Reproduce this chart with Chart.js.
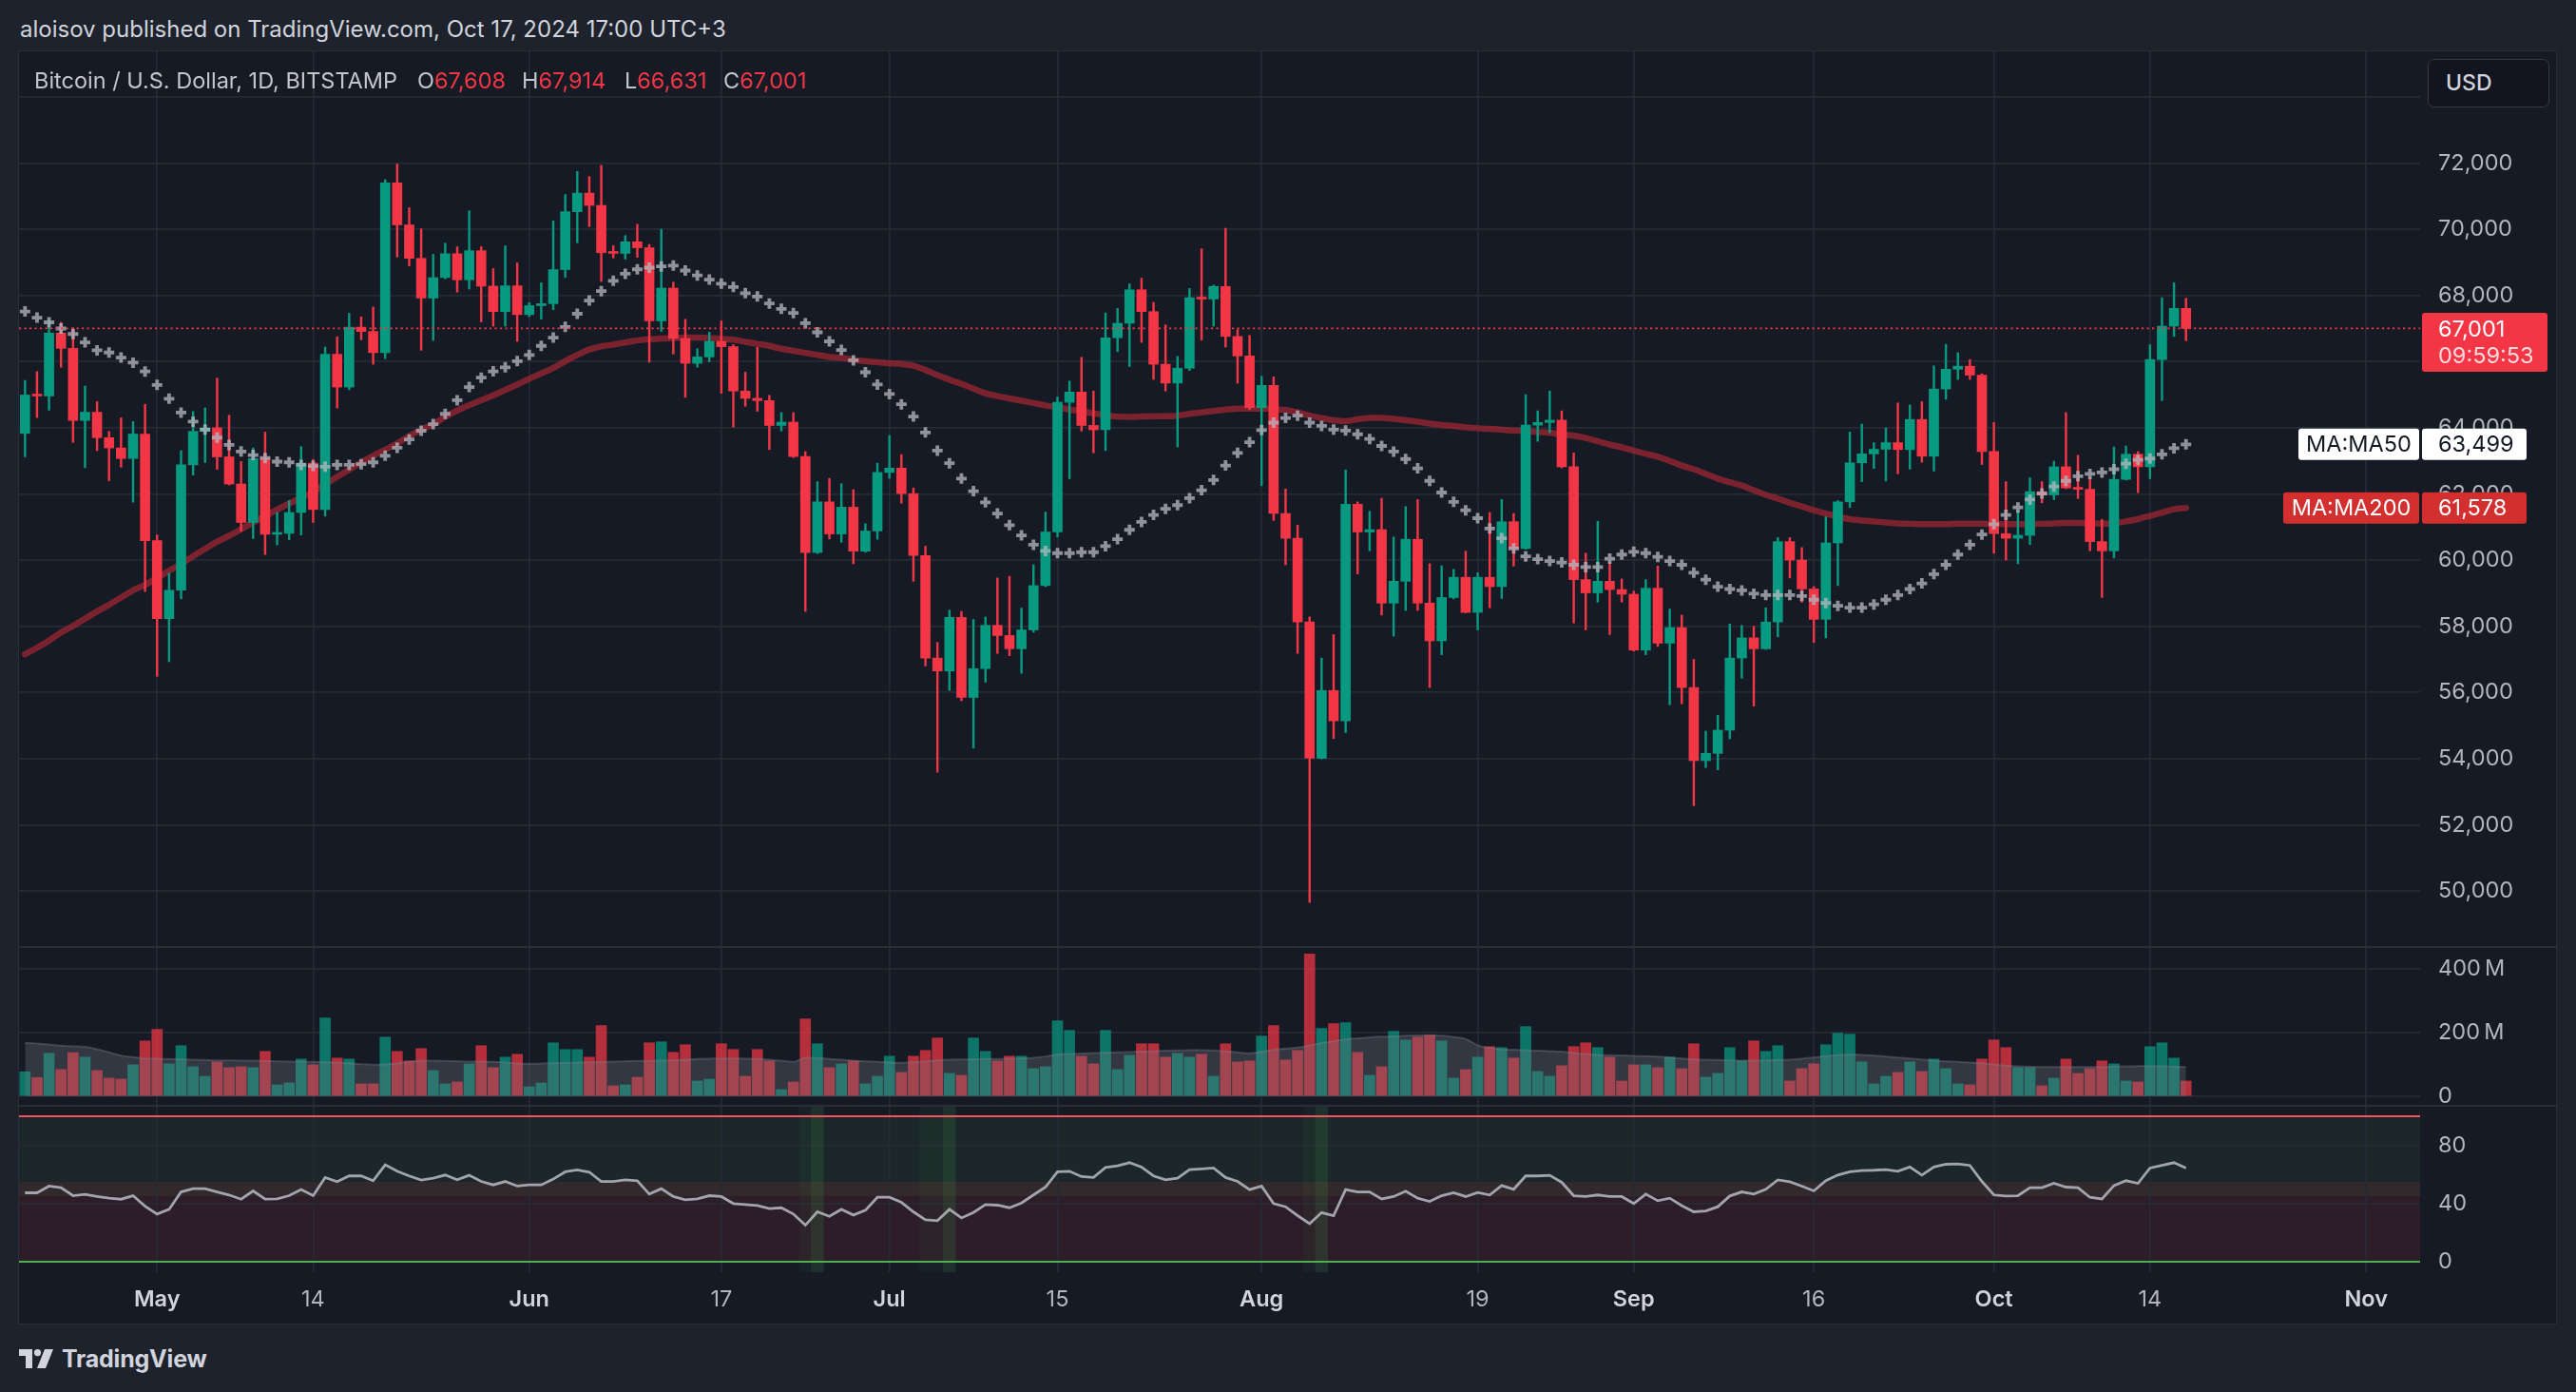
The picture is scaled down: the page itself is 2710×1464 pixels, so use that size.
<!DOCTYPE html>
<html>
<head>
<meta charset="utf-8">
<script src="https://cdn.jsdelivr.net/npm/chart.js@4.4.1/dist/chart.umd.min.js"></script>
<style>
  html, body { margin:0; padding:0; width:2710px; height:1464px; overflow:hidden; background:#1e222d; font-family: Inter, "Noto Sans", sans-serif; }
  #panel { position:absolute; left:19px; top:53px; width:2671px; height:1340px; background:#161a25; border:1px solid #2a2e39; box-sizing:border-box; }
  canvas { position:absolute; }
  .sep { position:absolute; left:20px; width:2670px; height:2px; background:#2a2e39; }
  .txt { position:absolute; white-space:nowrap; }
  #title { left:21px; top:16px; line-height:30px; font-size:24px; color:#d1d4dc; }
  .leg { top:70px; line-height:30px; font-size:23.5px; color:#c3c6ce; }
  .red { color:#f23645; }
  #usd { position:absolute; left:2554px; top:62px; width:128px; height:51px; box-sizing:border-box; border:1.5px solid #363a45; border-radius:7px; background:#12151f; color:#d1d4dc; font-size:23px; font-weight:500; line-height:48px; padding-left:18px; }
  #logo { position:absolute; left:20px; top:1414px; height:30px; display:flex; align-items:center; color:#d1d4dc; font-size:25px; font-weight:700; letter-spacing:-0.2px; }
  #logo svg { margin-right:9px; }
</style>
</head>
<body>
<div id="panel"></div>
<canvas id="cPrice" width="2670" height="942" style="left:20px;top:54px"></canvas>
<canvas id="cVol" width="2670" height="167" style="left:20px;top:996px"></canvas>
<canvas id="cRsi" width="2670" height="230" style="left:20px;top:1163px"></canvas>
<div class="sep" style="top:995px"></div>
<div class="sep" style="top:1162px"></div>
<div id="title" class="txt">aloisov published on TradingView.com, Oct 17, 2024 17:00 UTC+3</div>
<div class="txt leg" style="left:36px">Bitcoin / U.S. Dollar, 1D, BITSTAMP</div>
<div class="txt leg" style="left:439px">O<span class="red" id="lgO"></span></div>
<div class="txt leg" style="left:549px">H<span class="red" id="lgH"></span></div>
<div class="txt leg" style="left:657px">L<span class="red" id="lgL"></span></div>
<div class="txt leg" style="left:761px">C<span class="red" id="lgC"></span></div>
<div id="usd">USD</div>
<div id="logo"><svg width="36" height="20" viewBox="0 0 36 20"><path d="M0 0h14v20H7V7H0z" fill="#d1d4dc"/><circle cx="19.5" cy="3.6" r="3.6" fill="#d1d4dc"/><path d="M27 0h9l-8 20h-9z" fill="#d1d4dc"/></svg>TradingView</div>

<script>
// ---------------- DATA ----------------
const monthSpans = [['Apr',20,30],['May',1,31],['Jun',1,30],['Jul',1,31],['Aug',1,31],['Sep',1,30],['Oct',1,31],['Nov',1,5]];
const dates = monthSpans.flatMap(([m,a,b]) => Array.from({length:b-a+1}, (_, k) => m + ' ' + (a + k)));

const tickDates = ['May 1','May 14','Jun 1','Jun 17','Jul 1','Jul 15','Aug 1','Aug 19','Sep 1','Sep 16','Oct 1','Oct 14','Nov 1'];
const tickTexts = ['May','14','Jun','17','Jul','15','Aug','19','Sep','16','Oct','14','Nov'];

const priceTicks = [50000,52000,54000,56000,58000,60000,62000,64000,66000,68000,70000,72000,74000];
const priceTicksHiddenLabel = [74000];
const volumeTicks = [0,200,400];
const rsiTicks = [0,40,80];

const open = [63830,64990,64960,66860,66400,64220,64470,63700,63390,63070,
63810,60590,58230,59090,62880,63890,64000,63120,62300,61140,
63070,60780,60810,61440,62930,61530,66220,65230,67040,66910,
66270,71400,70130,69120,67920,68540,69260,68470,69350,68280,
67510,68290,67420,67690,67750,68780,70530,71090,70720,69300,
69270,69620,69440,67230,68220,66700,65950,66140,66610,66450,
65110,64890,64820,64070,64170,63130,60230,61760,60790,61600,
60270,60880,62650,62780,62010,60140,57040,56650,58270,55850,
56720,58030,57720,57320,57890,59230,60850,64770,65080,64070,
63940,66720,67160,68170,67510,65920,65350,65800,67930,67890,
68270,66760,66170,64610,65280,61410,60660,58130,54010,56060,
55140,61690,60850,60920,58700,59360,60630,58700,57560,58870,
59480,58420,59480,59200,61160,60350,64080,64160,64230,62820,
59410,59010,59360,59110,58970,57280,59150,57490,57960,56150,
53940,54160,54860,57040,57650,57320,58130,60560,60000,59130,
58210,60520,61760,62940,63210,63350,63550,63340,64250,63140,
65170,65770,65860,65590,63280,60800,60660,60750,62070,61970,
62820,62180,62140,60560,60280,62440,63200,62820,66060,67070,
67608];
const high = [65430,65700,67240,67190,67020,65260,64790,63890,64300,64190,
64710,60760,59600,63310,64490,64600,65500,64380,62980,63390,
63870,61440,61800,63430,63040,66440,66750,67460,67350,67650,
71500,71970,70650,70010,69240,69580,69470,70560,69470,68810,
69500,68980,67780,68380,70250,71050,71750,71590,71930,69500,
69810,70150,69540,70000,68400,67280,66390,66890,67230,66510,
65680,66430,64980,64460,64460,63280,62370,62470,62310,62130,
61100,62930,63770,63190,62180,60420,57510,58490,58450,58210,
58280,59460,59510,58550,59860,61450,64930,65410,66130,65110,
67470,67610,68350,68520,67790,67110,66160,68210,69410,68310,
70030,66970,66790,65560,65540,62150,61060,58280,57040,57750,
62720,61760,61480,61870,60700,61620,61830,59890,59830,59720,
60270,59620,61440,61830,61410,65000,64510,65110,64510,63240,
60210,61170,59930,59430,59060,59410,59820,58520,58340,57000,
54830,55310,58070,58030,58000,58560,60680,60680,60380,59200,
61310,61800,63870,64110,63550,63990,64750,64690,64790,65870,
66520,66270,66060,65630,64160,62370,61480,62490,62370,62990,
64460,63170,62490,61230,63420,63450,63280,66510,67930,68380,
67914];
const low = [63120,64310,64530,65830,63560,62790,63310,62400,62810,61750,
59050,56490,56930,58830,62570,62950,62740,62270,60870,60650,
60170,60460,60610,60760,61140,61330,64600,65150,66660,65920,
66090,69160,68890,66340,66640,68500,68100,68190,67200,67070,
67070,66610,67360,67280,67570,68540,69590,70080,68420,69130,
69100,69150,65980,66910,66230,64920,65830,65990,65040,64020,
64650,64500,63340,63900,63100,58450,60200,60640,60540,59890,
60240,60630,62470,61720,59360,56800,53590,56060,55750,54320,
56310,57180,57110,56580,57820,59200,60700,62460,63900,63240,
63310,66300,65850,66580,65460,65110,63420,65730,66650,67070,
66440,65350,64550,62250,61200,59860,57180,49650,53990,54610,
54790,59580,60280,58340,57700,58480,58480,56150,57140,58830,
58400,57890,58560,58840,59820,60330,63590,63850,62790,58100,
57890,58730,57750,58730,57250,57140,57390,55630,55660,52580,
53730,53660,54600,56430,55590,57300,57680,59460,58730,57510,
57650,59230,61590,62370,62770,62390,62610,62750,62960,62690,
64860,65460,65460,62890,60210,60000,59890,60470,61730,61830,
62160,61860,60280,58870,60070,62420,62040,62460,64820,66760,
66631];
const close = [64990,64960,66860,66400,64220,64470,63700,63390,63070,63810,
60590,58230,59090,62880,63890,64000,63120,62300,61140,63070,
60780,60810,61440,62930,61530,66220,65230,67040,66910,66270,
71400,70130,69120,67920,68540,69260,68470,69350,68280,67510,
68290,67420,67690,67750,68780,70530,71090,70720,69290,69270,
69620,69440,67230,68220,66700,65950,66140,66610,66450,65110,
64890,64820,64070,64170,63130,60230,61760,60790,61600,60270,
60880,62650,62780,62010,60140,57040,56650,58270,55850,56720,
58030,57720,57320,57890,59230,60850,64770,65080,64070,63940,
66720,67160,68170,67510,65920,65350,65800,67930,67890,68270,
66760,66170,64610,65280,61410,60660,58130,54010,56060,55140,
61690,60850,60920,58700,59360,60630,58700,57560,58870,59480,
58420,59480,59200,61160,60350,64080,64160,64230,62820,59410,
59010,59360,59110,58970,57280,59150,57490,57960,56150,53940,
54160,54860,57040,57650,57320,58130,60560,60000,59130,58210,
60520,61760,62940,63210,63350,63550,63340,64250,63140,65170,
65770,65860,65590,63280,60800,60660,60750,62070,61970,62820,
62180,62140,60560,60280,62440,63200,62820,66060,67070,67610,
67001];

const ma50 = [67516,67329,67186,66999,66834,66581,66340,66274,66120,65966,
65702,65296,64878,64460,64186,63944,63702,63482,63284,63175,
63087,62977,62955,62878,62845,62823,62878,62878,62900,62955,
63153,63394,63647,63911,64109,64420,64832,65230,65516,65703,
65827,66014,66201,66475,66724,67047,67445,67844,68130,68441,
68653,68789,68839,68877,68901,68752,68603,68478,68354,68254,
68068,67968,67757,67595,67470,67159,66885,66612,66350,66039,
65678,65305,65019,64710,64338,63859,63309,62929,62464,62084,
61746,61408,61056,60746,60464,60278,60211,60211,60239,60239,
60422,60633,60915,61155,61366,61549,61662,61873,62112,62422,
62859,63239,63563,63929,64155,64295,64366,64155,64056,63943,
63915,63802,63661,63450,63281,63056,62774,62394,62042,61760,
61506,61267,60957,60661,60352,60112,60028,59972,59929,59859,
59788,59788,60042,60168,60253,60211,60098,59972,59859,59619,
59408,59197,59126,59084,58985,58943,58943,58943,58915,58802,
58704,58619,58563,58563,58662,58802,58943,59126,59295,59577,
59859,60168,60465,60774,61084,61366,61591,61830,62013,62225,
62394,62535,62605,62647,62746,62915,63028,63070,63197,63380,
63499];
const ma200 = [57153,57350,57570,57811,58009,58229,58449,58647,58867,59087,
59252,59460,59680,59878,60119,60339,60559,60735,60933,61141,
61328,61526,61713,61878,62076,62295,62515,62735,62955,63153,
63339,63526,63746,63944,64109,64329,64521,64683,64832,64981,
65143,65305,65479,65641,65803,66014,66201,66363,66462,66512,
66574,66636,66674,66699,66711,66724,66724,66711,66686,66661,
66599,66537,66475,66388,66325,66263,66201,66139,66114,66052,
66014,65977,65952,65927,65873,65746,65591,65450,65324,65183,
65042,64957,64887,64816,64746,64676,64619,64549,64493,64436,
64380,64338,64324,64338,64352,64352,64366,64422,64464,64507,
64549,64577,64577,64577,64563,64535,64464,64366,64295,64225,
64197,64253,64295,64295,64267,64225,64183,64126,64084,64056,
64014,63986,63971,63943,63915,63901,63873,63845,63802,63760,
63690,63591,63492,63408,63309,63211,63126,63000,62859,62746,
62605,62464,62352,62253,62112,61971,61858,61732,61620,61507,
61408,61310,61239,61197,61169,61140,61112,61098,61084,61084,
61084,61098,61098,61098,61084,61084,61084,61084,61098,61112,
61126,61126,61112,61098,61112,61169,61239,61338,61436,61535,
61578];

const volume = [77,59,135,84,137,123,81,57,54,99,
174,210,102,159,93,63,108,90,93,90,
141,36,42,117,99,246,120,117,39,39,
186,141,111,150,81,39,45,102,159,90,
123,132,30,42,168,147,147,123,222,33,
36,60,168,171,138,162,48,54,165,147,
63,147,111,21,45,243,165,90,102,111,
39,63,126,75,126,144,183,72,66,183,
141,111,126,126,87,93,237,207,126,102,
207,84,129,165,165,123,135,123,132,63,
165,108,111,189,222,114,144,447,213,228,
231,138,66,93,204,177,186,192,174,57,
84,123,156,153,120,219,78,63,96,156,
168,153,123,48,99,99,90,123,87,165,
60,72,153,111,174,141,159,48,87,102,
162,198,195,108,39,63,75,108,78,117,
87,39,36,117,177,153,90,90,33,57,
117,72,87,111,102,48,45,156,168,120,
48];
const volumeMA = [168,166,163,159,157,155,148,138,128,123,
119,118,117,116,115,114,113,113,112,112,
111,110,109,109,108,107,106,104,101,99,
100,104,108,112,112,111,110,109,109,108,
106,103,102,103,104,105,106,107,108,109,
110,111,111,112,113,115,117,118,119,119,
118,117,115,112,108,121,120,117,115,112,
110,108,106,105,107,110,113,115,116,116,
117,117,118,119,121,125,131,133,134,136,
137,138,139,140,142,143,144,145,145,144,
141,138,135,140,146,150,153,160,167,173,
179,182,185,187,188,190,191,192,190,186,
180,160,152,147,146,145,143,142,140,136,
133,130,129,128,127,126,125,122,119,116,
115,114,113,112,112,113,114,115,118,122,
126,129,131,130,128,125,122,119,116,112,
110,108,106,104,100,96,94,93,92,92,
92,92,92,92,93,94,95,95,94,93,
92];

const rsi = [47.4,47.4,52,50.9,45.4,46.3,44.8,43.7,43,45.4,
38.2,32.8,36,48,50.2,50.2,48,45.9,43,48.7,
43,43.2,45.4,49.6,45.4,57.9,55,59,59,55.7,
66.6,62.2,59,56.1,57.4,59.6,56.3,59.4,55.2,52.8,
55.2,52,52.8,52.8,56.8,61.8,63.1,61.6,55.2,55.2,
56.3,55.7,46.5,50.2,44.8,42.6,43.2,45.4,44.8,40,
39.3,38.6,36.5,37.1,32.8,25.1,34.3,31.2,36,32.1,
35.4,44.3,44.3,40.8,34.3,28.8,28.2,36,30.1,33.8,
39.3,38.9,37.1,40.4,45.9,51.3,61.8,62.2,58.5,57.9,
64.8,65.9,68.1,65.1,59,56.3,57.4,63.3,63.8,64.4,
57.9,55.2,49.6,52,40,37.8,31.7,26.2,33.8,31.7,
49.6,48,48,43.2,44.8,48.5,43.7,41.5,45.4,47.4,
44.8,47.6,45.9,52.4,49.8,59,59,59.4,54.6,45.4,
44.8,45.9,44.8,44.8,40,46.5,41.9,43.7,38.6,34.3,
34.9,37.8,45.2,48,46.5,49.8,56.3,55,52,48.7,
55.7,59.6,61.8,62.7,62.9,63.3,62.2,65.1,59.6,65.1,
67,67.2,66.2,55.2,45.9,45.2,45.4,50.9,50.9,53.9,
51.3,50.9,44.3,43.2,52.4,55.7,53.9,64.4,66.2,68.1,
64.4];
const rsiStrong = ['Jun 25','Jul 6','Aug 6'];
const rsiWeak = ['Jun 24','Jul 4','Jul 5','Aug 5'];
const rsiBands = [
  {from:45, to:100, color:'rgba(76,175,80,0.09)'},
  {from:0, to:55, color:'rgba(242,54,69,0.10)'}
];

// ---------------- STYLE ----------------
const FONT = 'Inter, "Noto Sans", sans-serif';
const GREEN = '#089981', RED = '#f23645';
const GRID = '#262a35';
const AXIS_TEXT = '#b2b5be';
const LBL = 23.5;
Chart.defaults.font.family = FONT;
Chart.defaults.animation = false;

const n = close.length;
const up = close.map((c, i) => c >= open[i]);
const candleColor = up.map(u => u ? GREEN : RED);
const volColor = up.map(u => u ? 'rgba(8,153,129,0.72)' : 'rgba(242,54,69,0.72)');
const tickIdx = tickDates.map(d => dates.indexOf(d));
const isMonth = t => isNaN(parseInt(t, 10));
const gridX = c => (tickIdx.includes(c.index) ? GRID : 'rgba(0,0,0,0)');
const fmt = v => Math.round(v).toLocaleString('en-US');

document.getElementById('lgO').textContent = fmt(open[n-1]);
document.getElementById('lgH').textContent = fmt(high[n-1]);
document.getElementById('lgL').textContent = fmt(low[n-1]);
document.getElementById('lgC').textContent = fmt(close[n-1]);

function xScale(showLabels) {
  return {
    type: 'category', offset: true,
    grid: { color: gridX, offset: false, drawTicks: false, lineWidth: 1.7 },
    border: { display: false },
    ticks: {
      display: showLabels, autoSkip: false, maxRotation: 0, minRotation: 0, padding: 15,
      callback: (v, i) => { const k = tickIdx.indexOf(i); return k >= 0 ? tickTexts[k] : ''; },
      color: c => { const k = tickIdx.indexOf(c.index); return k >= 0 && isMonth(tickTexts[k]) ? '#d1d4dc' : AXIS_TEXT; },
      font: c => { const k = tickIdx.indexOf(c.index); return { family: FONT, size: LBL, weight: (k >= 0 && isMonth(tickTexts[k])) ? '600' : '400' }; }
    },
    afterFit(s) { s.height = showLabels ? 55 : 0; s.paddingLeft = 0; s.paddingRight = 0; }
  };
}
function yScale(min, max, ticks, labelFn) {
  return {
    position: 'right', min, max,
    grid: { color: GRID, drawTicks: false, lineWidth: 1.7 },
    border: { display: false },
    afterBuildTicks(s) { s.ticks = ticks.map(v => ({ value: v })); },
    ticks: { color: AXIS_TEXT, font: { size: LBL }, padding: 19, crossAlign: 'near', callback: labelFn },
    afterFit(s) { s.width = 144; s.paddingTop = 0; s.paddingBottom = 0; }
  };
}
const baseOpts = {
  responsive: false, devicePixelRatio: 1, animation: false,
  layout: { padding: 0, autoPadding: false },
  plugins: { legend: { display: false }, tooltip: { enabled: false } }
};

function roundRect(ctx, x, y, w, h, r, color) {
  ctx.fillStyle = color; ctx.beginPath(); ctx.roundRect(x, y, w, h, r); ctx.fill();
}

// last price line + right-axis labels
const pricePlugin = {
  id: 'pricePlugin',
  afterDatasetsDraw(chart) {
    const { ctx, chartArea, scales: { y } } = chart;
    const py = y.getPixelForValue(close[n-1]);
    ctx.save();
    ctx.strokeStyle = RED; ctx.lineWidth = 1.8; ctx.setLineDash([2.2, 3.3]);
    ctx.beginPath(); ctx.moveTo(chartArea.left, py); ctx.lineTo(chartArea.right, py); ctx.stroke();
    ctx.restore();
  },
  afterDraw(chart) {
    const { ctx, chartArea, scales: { y } } = chart;
    const R = chartArea.right;
    ctx.save();
    ctx.textBaseline = 'middle';
    ctx.font = LBL + 'px ' + FONT;
    const py = y.getPixelForValue(close[n-1]);
    roundRect(ctx, R + 2, py - 16.5, 132, 62, 3, RED);
    ctx.fillStyle = '#ffffff'; ctx.textAlign = 'left';
    ctx.fillText(fmt(close[n-1]), R + 19, py + 1);
    ctx.fillStyle = 'rgba(255,255,255,0.82)';
    ctx.fillText('09:59:53', R + 19, py + 29);
    const labels = [
      { name: 'MA:MA50', v: ma50[n-1], bg: '#ffffff', fg: '#131722', w1: 127 },
      { name: 'MA:MA200', v: ma200[n-1], bg: '#d32f2f', fg: '#ffffff', w1: 143 }
    ];
    labels.forEach(l => {
      const yy = y.getPixelForValue(l.v);
      roundRect(ctx, R - l.w1 - 1, yy - 16.5, l.w1, 33, 3, l.bg);
      roundRect(ctx, R + 2, yy - 16.5, 110, 33, 3, l.bg);
      ctx.fillStyle = l.fg;
      ctx.textAlign = 'center'; ctx.fillText(l.name, R - 1 - l.w1 / 2, yy + 1);
      ctx.textAlign = 'left'; ctx.fillText(fmt(l.v), R + 19, yy + 1);
    });
    ctx.restore();
  }
};

new Chart(document.getElementById('cPrice'), {
  type: 'bar',
  data: {
    labels: dates,
    datasets: [
      { type: 'line', label: 'MA200', data: ma200, borderColor: 'rgba(170,38,50,0.68)', borderWidth: 6.5,
        pointRadius: 0, cubicInterpolationMode: 'monotone', borderCapStyle: 'round', order: 3 },
      { type: 'bar', label: 'Wick', data: low.map((l, i) => [l, high[i]]), backgroundColor: candleColor,
        barThickness: 1.8, grouped: false, order: 2 },
      { type: 'bar', label: 'Body', data: open.map((o, i) => [o, close[i]]), backgroundColor: candleColor,
        barThickness: 10, minBarLength: 2, grouped: false, order: 1 },
      { type: 'line', label: 'MA50', data: ma50, showLine: false, pointStyle: 'cross', pointRadius: 5.5,
        pointBorderWidth: 3.8, pointBorderColor: 'rgba(178,181,190,0.78)', pointBackgroundColor: 'rgba(0,0,0,0)', order: 0 }
    ]
  },
  options: Object.assign({}, baseOpts, {
    scales: { x: xScale(false), y: yScale(48307, 75376, priceTicks, v => priceTicksHiddenLabel.includes(v) ? '' : fmt(v)) }
  }),
  plugins: [pricePlugin]
});

new Chart(document.getElementById('cVol'), {
  type: 'bar',
  data: {
    labels: dates,
    datasets: [
      { type: 'line', label: 'Volume MA', data: volumeMA, fill: 'origin', borderColor: 'rgba(130,133,144,0.35)',
        backgroundColor: 'rgba(120,123,134,0.30)', borderWidth: 2, pointRadius: 0, cubicInterpolationMode: 'monotone', order: 0 },
      { type: 'bar', label: 'Volume', data: volume, backgroundColor: volColor, barThickness: 11, grouped: false, order: 1 }
    ]
  },
  options: Object.assign({}, baseOpts, {
    scales: { x: xScale(false), y: yScale(-29.85, 468.7, volumeTicks, v => v === 0 ? '0' : v + '\u2009M') }
  })
});

const rsiPlugin = {
  id: 'rsiPlugin',
  beforeDraw(chart) {
    const { ctx, chartArea, scales: { y } } = chart;
    ctx.save();
    rsiBands.forEach(b => {
      const t = y.getPixelForValue(b.to), bt = y.getPixelForValue(b.from);
      ctx.fillStyle = b.color;
      ctx.fillRect(chartArea.left, t, chartArea.right - chartArea.left, bt - t);
    });
    ctx.restore();
  },
  afterDatasetsDraw(chart) {
    const { ctx, chartArea, scales: { y } } = chart;
    ctx.save();
    ctx.lineWidth = 2.2;
    ctx.strokeStyle = '#f7525f';
    let yy = y.getPixelForValue(100);
    ctx.beginPath(); ctx.moveTo(chartArea.left, yy); ctx.lineTo(chartArea.right, yy); ctx.stroke();
    ctx.strokeStyle = '#4caf50';
    yy = y.getPixelForValue(0);
    ctx.beginPath(); ctx.moveTo(chartArea.left, yy); ctx.lineTo(chartArea.right, yy); ctx.stroke();
    ctx.restore();
  }
};

const hlData = dates.slice(0, n).map(d => (rsiStrong.includes(d) || rsiWeak.includes(d)) ? [-10, 120] : null);
const hlColor = dates.slice(0, n).map(d => rsiStrong.includes(d) ? 'rgba(76,175,80,0.16)' : 'rgba(76,175,80,0.05)');

new Chart(document.getElementById('cRsi'), {
  type: 'bar',
  data: {
    labels: dates,
    datasets: [
      { type: 'line', label: 'RSI', data: rsi, borderColor: 'rgba(175,178,187,0.9)', borderWidth: 2.8,
        pointRadius: 0, tension: 0, order: 0 },
      { type: 'bar', label: 'Signal', data: hlData, backgroundColor: hlColor, barPercentage: 1, categoryPercentage: 1, order: 1 }
    ]
  },
  options: Object.assign({}, baseOpts, {
    scales: { x: xScale(true), y: yScale(-7.19, 107.19, rsiTicks, v => String(v)) }
  }),
  plugins: [rsiPlugin]
});
</script>
</body>
</html>
